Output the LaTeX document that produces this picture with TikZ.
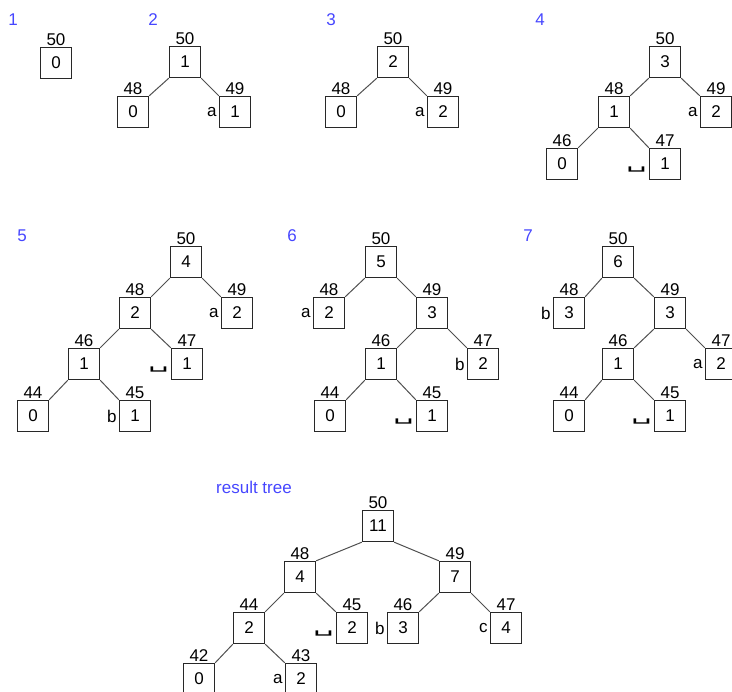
\documentclass[tikz,border=0pt]{standalone}
\usepackage{fontspec}
\usepackage{graphicx}
\setmainfont{Liberation Sans}
\newfontfamily\dejavu{DejaVu Sans}
\definecolor{stepblue}{RGB}{70,70,255}
\definecolor{boxline}{RGB}{40,40,40}
\definecolor{edgeline}{RGB}{80,80,80}
\begin{document}
\begin{tikzpicture}[x=1pt,y=-1pt,
  font=\fontsize{17}{19}\selectfont,
  bx/.style={draw=boxline,line width=1.4pt,minimum size=31pt,inner sep=0pt,fill=white},
  num/.style={label={[inner sep=1pt]above:#1}},
  side/.style={label={[inner sep=2pt]left:#1}},
  spc/.style={label={[inner sep=2pt,yshift=-6pt,font=\dejavu\fontsize{16}{18}\selectfont]left:\scalebox{2}[1]{␣}}},
  edge/.style={draw=edgeline,line width=1pt},
  steplbl/.style={text=stepblue,anchor=center,inner sep=0pt}]
\useasboundingbox (0,0) rectangle (732,692);
% step labels
\node[steplbl] (s1) at (13,20) {1};
\node[steplbl] (s2) at (153,20) {2};
\node[steplbl] (s3) at (331,20) {3};
\node[steplbl] (s4) at (540,20) {4};
\node[steplbl] (s5) at (22,236) {5};
\node[steplbl] (s6) at (292,236) {6};
\node[steplbl] (s7) at (528,236) {7};
\node[steplbl,anchor=west] (s8) at (216,487) {result tree};
% panel 1
\node[bx,num=50] (a50) at (56,63) {0};
% panel 2
\node[bx,num=50] (b50) at (185,62) {1};
\node[bx,num=48] (b48) at (133,112) {0};
\node[bx,num=49,side=a] (b49) at (235,112) {1};
\draw[edge] (b50.south west) -- (b48.north east);
\draw[edge] (b50.south east) -- (b49.north west);
% panel 3
\node[bx,num=50] (c50) at (393,62) {2};
\node[bx,num=48] (c48) at (341,112) {0};
\node[bx,num=49,side=a] (c49) at (443,112) {2};
\draw[edge] (c50.south west) -- (c48.north east);
\draw[edge] (c50.south east) -- (c49.north west);
% panel 4
\node[bx,num=50] (d50) at (665,62) {3};
\node[bx,num=48] (d48) at (614,112) {1};
\node[bx,num=49,side=a] (d49) at (716,112) {2};
\node[bx,num=46] (d46) at (562,164) {0};
\node[bx,num=47,spc] (d47) at (665,164) {1};
\draw[edge] (d50.south west) -- (d48.north east);
\draw[edge] (d50.south east) -- (d49.north west);
\draw[edge] (d48.south west) -- (d46.north east);
\draw[edge] (d48.south east) -- (d47.north west);
% panel 5
\node[bx,num=50] (e50) at (186,262) {4};
\node[bx,num=48] (e48) at (135,313) {2};
\node[bx,num=49,side=a] (e49) at (237,313) {2};
\node[bx,num=46] (e46) at (84,364) {1};
\node[bx,num=47,spc] (e47) at (187,364) {1};
\node[bx,num=44] (e44) at (33,416) {0};
\node[bx,num=45,side=b] (e45) at (135,416) {1};
\draw[edge] (e50.south west) -- (e48.north east);
\draw[edge] (e50.south east) -- (e49.north west);
\draw[edge] (e48.south west) -- (e46.north east);
\draw[edge] (e48.south east) -- (e47.north west);
\draw[edge] (e46.south west) -- (e44.north east);
\draw[edge] (e46.south east) -- (e45.north west);
% panel 6
\node[bx,num=50] (f50) at (381,262) {5};
\node[bx,num=48,side=a] (f48) at (329,313) {2};
\node[bx,num=49] (f49) at (432,313) {3};
\node[bx,num=46] (f46) at (381,364) {1};
\node[bx,num=47,side=b] (f47) at (483,364) {2};
\node[bx,num=44] (f44) at (330,416) {0};
\node[bx,num=45,spc] (f45) at (432,416) {1};
\draw[edge] (f50.south west) -- (f48.north east);
\draw[edge] (f50.south east) -- (f49.north west);
\draw[edge] (f49.south west) -- (f46.north east);
\draw[edge] (f49.south east) -- (f47.north west);
\draw[edge] (f46.south west) -- (f44.north east);
\draw[edge] (f46.south east) -- (f45.north west);
% panel 7
\node[bx,num=50] (g50) at (618,262) {6};
\node[bx,num=48,side=b] (g48) at (569,313) {3};
\node[bx,num=49] (g49) at (670,313) {3};
\node[bx,num=46] (g46) at (618,364) {1};
\node[bx,num=47,side=a] (g47) at (721,364) {2};
\node[bx,num=44] (g44) at (569,416) {0};
\node[bx,num=45,spc] (g45) at (670,416) {1};
\draw[edge] (g50.south west) -- (g48.north east);
\draw[edge] (g50.south east) -- (g49.north west);
\draw[edge] (g49.south west) -- (g46.north east);
\draw[edge] (g49.south east) -- (g47.north west);
\draw[edge] (g46.south west) -- (g44.north east);
\draw[edge] (g46.south east) -- (g45.north west);
% result tree
\node[bx,num=50] (h50) at (378,526) {11};
\node[bx,num=48] (h48) at (300,577) {4};
\node[bx,num=49] (h49) at (455,577) {7};
\node[bx,num=44] (h44) at (249,628) {2};
\node[bx,num=45,spc] (h45) at (352,628) {2};
\node[bx,num=46,side=b] (h46) at (403,628) {3};
\node[bx,num=47,side=c] (h47) at (506,628) {4};
\node[bx,num=42] (h42) at (199,679) {0};
\node[bx,num=43,side=a] (h43) at (301,679) {2};
\draw[edge] (h50.south west) -- (h48.north east);
\draw[edge] (h50.south east) -- (h49.north west);
\draw[edge] (h48.south west) -- (h44.north east);
\draw[edge] (h48.south east) -- (h45.north west);
\draw[edge] (h49.south west) -- (h46.north east);
\draw[edge] (h49.south east) -- (h47.north west);
\draw[edge] (h44.south west) -- (h42.north east);
\draw[edge] (h44.south east) -- (h43.north west);
\end{tikzpicture}
\end{document}
